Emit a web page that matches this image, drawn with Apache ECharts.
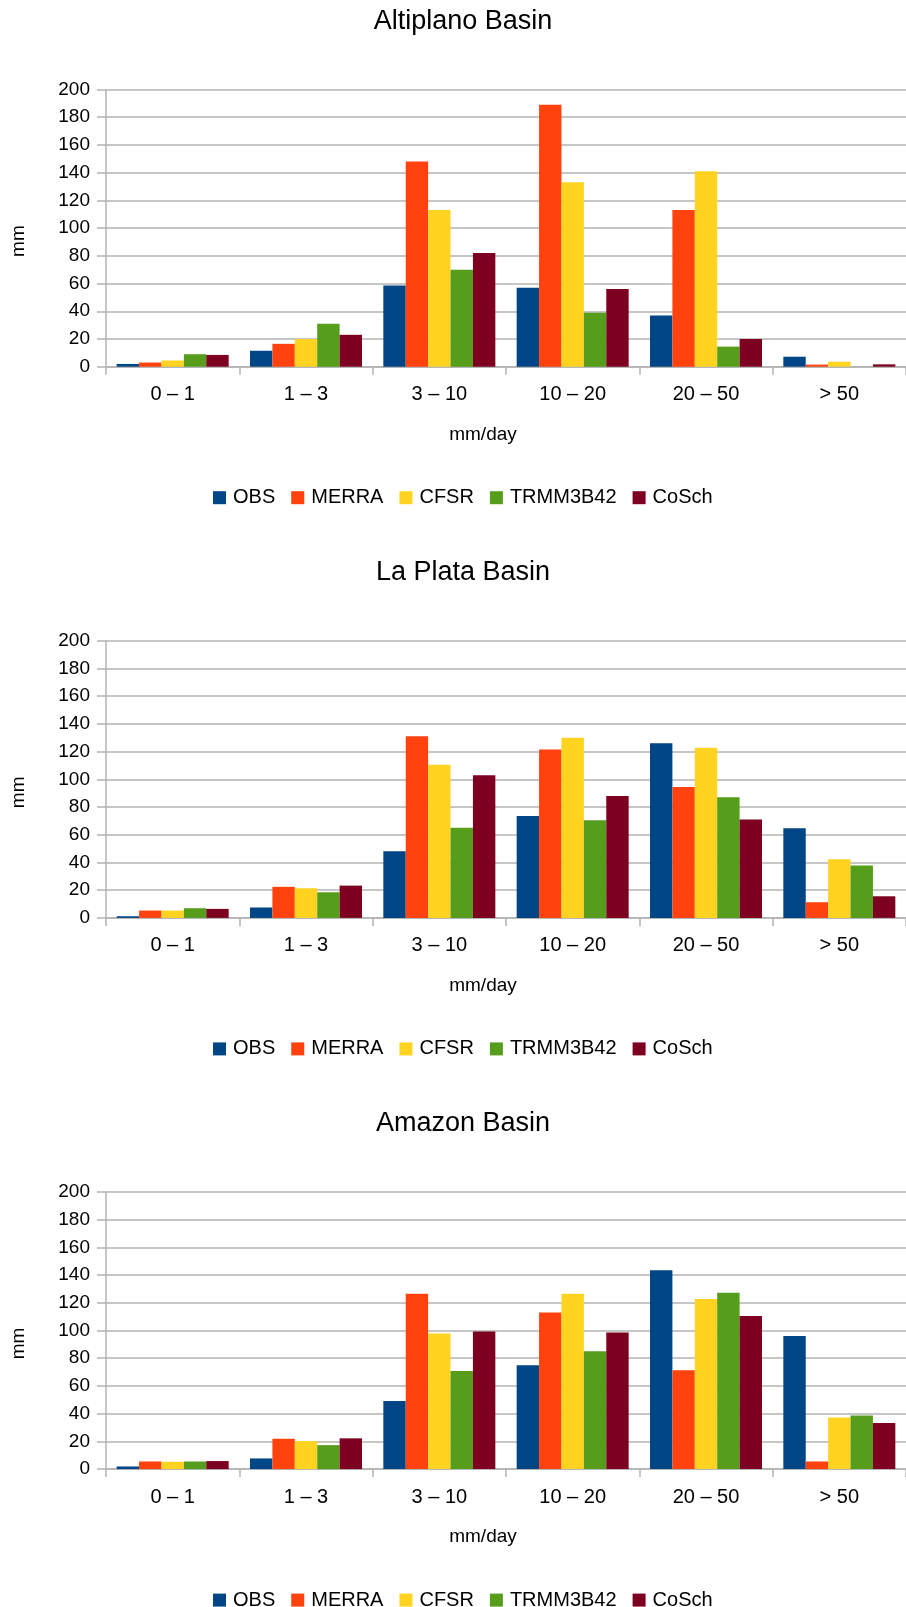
<!DOCTYPE html>
<html>
<head>
<meta charset="utf-8">
<title>Precipitation by intensity class</title>
<script src="https://cdn.jsdelivr.net/npm/echarts@6/dist/echarts.min.js"></script>
<style>
  html, body { margin: 0; padding: 0; background: #ffffff; overflow: hidden; }
  #chart { width: 906px; height: 1607px; }
</style>
</head>
<body>
<div id="chart"></div>
<script>
// Intensity classes (mm/day) on the x axis
const categories = ['0 – 1', '1 – 3', '3 – 10', '10 – 20', '20 – 50', '> 50'];
const seriesNames = ['OBS', 'MERRA', 'CFSR', 'TRMM3B42', 'CoSch'];
const seriesColors = ['#004586', '#ff420e', '#ffd320', '#579d1c', '#7e0021'];
const yTicks = { min: 0, max: 200, step: 20 };

// Altiplano Basin (mm)
const altiplanoOBS      = [2, 11.5, 58.5, 57, 37, 7.2];
const altiplanoMERRA    = [3, 16.5, 148, 189, 113, 1.5];
const altiplanoCFSR     = [4.5, 20, 113, 133, 141, 3.6];
const altiplanoTRMM3B42 = [9, 31, 70, 39, 14.5, 0];
const altiplanoCoSch    = [8.5, 23, 82, 56, 20, 1.7];

// La Plata Basin (mm)
const laPlataOBS      = [1.2, 7.5, 48, 73.5, 126, 64.7];
const laPlataMERRA    = [5.3, 22.4, 131, 121.5, 94.5, 11.3];
const laPlataCFSR     = [5.3, 21.4, 110.5, 130, 122.7, 42.4];
const laPlataTRMM3B42 = [7, 18.5, 65, 70.5, 87, 37.8];
const laPlataCoSch    = [6.5, 23.3, 103, 88, 71, 15.6];

// Amazon Basin (mm)
const amazonOBS      = [1.9, 7.7, 49.2, 75, 143.4, 96];
const amazonMERRA    = [5.5, 21.9, 126.5, 113, 71.3, 5.5];
const amazonCFSR     = [5.3, 20.2, 97.8, 126.5, 122.7, 37.3];
const amazonTRMM3B42 = [5.5, 17.3, 70.8, 85, 127.2, 38.6];
const amazonCoSch    = [5.8, 22.2, 99.3, 98.6, 110.4, 33.3];

const panels = [
  { title: 'Altiplano Basin', data: [altiplanoOBS, altiplanoMERRA, altiplanoCFSR, altiplanoTRMM3B42, altiplanoCoSch] },
  { title: 'La Plata Basin',  data: [laPlataOBS, laPlataMERRA, laPlataCFSR, laPlataTRMM3B42, laPlataCoSch] },
  { title: 'Amazon Basin',    data: [amazonOBS, amazonMERRA, amazonCFSR, amazonTRMM3B42, amazonCoSch] }
];

// Panel geometry
const FONT = '"Liberation Sans", Arial, sans-serif';
const plotLeft = 106, plotWidth = 804, plotHeight = 277.2;
const firstTop = 89.5, panelStep = 551.2;
const gridColor = '#b3b3b3';

const grids = [], xAxes = [], yAxes = [], series = [], legends = [], graphics = [];

panels.forEach((p, i) => {
  const top = firstTop + i * panelStep;
  const bottom = top + plotHeight;

  grids.push({ left: plotLeft, top: top, width: plotWidth, height: plotHeight, containLabel: false });

  xAxes.push({
    type: 'category', gridIndex: i, data: categories,
    axisLine: { show: true, lineStyle: { color: gridColor, width: 1.5 } },
    axisTick: { show: true, length: 8, lineStyle: { color: gridColor, width: 1.5 } },
    axisLabel: { color: '#000', fontFamily: FONT, fontSize: 20, margin: 18 },
    splitLine: { show: false }
  });

  yAxes.push({
    type: 'value', gridIndex: i, min: yTicks.min, max: yTicks.max, interval: yTicks.step,
    axisLine: { show: true, lineStyle: { color: gridColor, width: 1.5 } },
    axisTick: { show: true, length: 9, lineStyle: { color: gridColor, width: 1.5 } },
    axisLabel: { color: '#000', fontFamily: FONT, fontSize: 19, margin: 16 },
    splitLine: { show: true, lineStyle: { color: gridColor, width: 1.5 } }
  });

  seriesNames.forEach((name, k) => {
    series.push({
      name: name, type: 'bar', xAxisIndex: i, yAxisIndex: i,
      data: p.data[k],
      barGap: '0%', barCategoryGap: '16%',
      itemStyle: { color: seriesColors[k] },
      emphasis: { disabled: true },
      animation: false
    });
  });

  legends.push({
    data: seriesNames,
    left: 208, top: bottom + 128 - 12,
    icon: 'rect', itemWidth: 13, itemHeight: 13, itemGap: 16,
    textStyle: { color: '#000', fontFamily: FONT, fontSize: 20, padding: [0, 0, 0, 2] },
    selectedMode: false
  });

  // Panel title
  graphics.push({
    type: 'text', x: 463, y: top - 68,
    style: { text: p.title, fill: '#000', font: '27px ' + FONT, textAlign: 'center', textVerticalAlign: 'middle' }
  });
  // y-axis name
  graphics.push({
    type: 'text', x: 19, y: top + plotHeight / 2 + 13, rotation: Math.PI / 2,
    style: { text: 'mm', fill: '#000', font: '19px ' + FONT, textAlign: 'center', textVerticalAlign: 'middle' }
  });
  // x-axis name
  graphics.push({
    type: 'text', x: 483, y: bottom + 68,
    style: { text: 'mm/day', fill: '#000', font: '19px ' + FONT, textAlign: 'center', textVerticalAlign: 'middle' }
  });
});

const chart = echarts.init(document.getElementById('chart'), null, { renderer: 'canvas' });
chart.setOption({
  backgroundColor: '#ffffff',
  animation: false,
  grid: grids,
  xAxis: xAxes,
  yAxis: yAxes,
  legend: legends,
  series: series,
  graphic: graphics
});
</script>
</body>
</html>
